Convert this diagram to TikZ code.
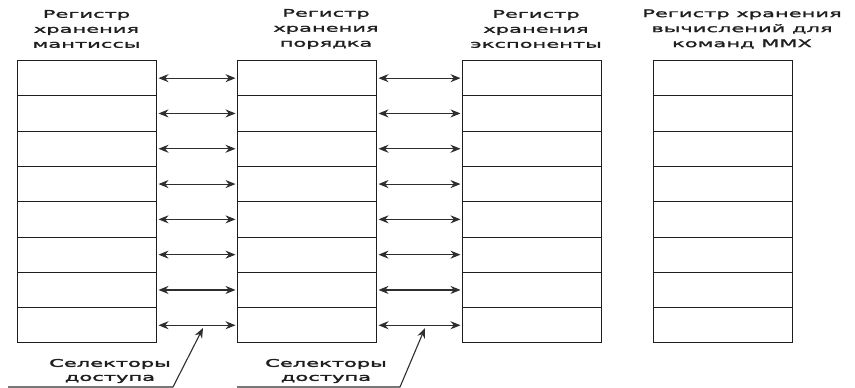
\documentclass[tikz,border=0pt]{standalone}
\usepackage{fontspec}
\usetikzlibrary{arrows.meta}
\newfontfamily\widesans[FakeStretch=2.0, FakeBold=1.8]{DejaVu Sans}
\newfontfamily\widesansheavy[FakeStretch=2.0, FakeBold=2.8]{DejaVu Sans}
\definecolor{ink}{HTML}{1E1E1E}
\definecolor{wire}{HTML}{2E2E2E}
\tikzset{
  cell/.style={draw=ink, line width=1pt, rectangle, minimum width=139pt,
    minimum height=35.3pt, inner sep=0pt, anchor=north west},
  title/.style={align=center, text=ink, inner sep=0pt,
    font=\widesans\fontsize{10.5}{15}\selectfont},
  caption/.style={align=center, text=ink, inner sep=0pt,
    font=\widesansheavy\fontsize{10.5}{14}\selectfont},
  link/.style={draw=wire, line width=1.1pt, {Stealth[length=10pt,width=8pt]}-{Stealth[length=10pt,width=8pt]},
    shorten <=1.5pt, shorten >=1.5pt},
  pointer/.style={draw=wire, line width=1.1pt, -{Stealth[length=10pt,width=8pt]}},
}
\begin{document}
\begin{tikzpicture}[x=1pt,y=-1pt]
  \useasboundingbox (0,0) rectangle (855,388);
  % four register stacks, eight cells each
  \foreach \c/\x in {1/17, 2/237, 3/462, 4/653}{
    \foreach \r in {1,...,8}{
      \node[cell] (c\c-\r) at (\x, {60+(\r-1)*35.3}) {};
    }
  }
  % headings
  \node[title] (h1) at (86.5,29) {Регистр\\хранения\\мантиссы};
  \node[title] (h2) at (326,29) {Регистр\\хранения\\порядка};
  \node[title] (h3) at (536,29) {Регистр\\хранения\\экспоненты};
  \node[title] (h4) at (742,29) {Регистр хранения\\вычислений для\\команд MMX};
  % bidirectional links between neighbouring stacks
  \foreach \r in {1,...,8}{
    \draw[link] (c1-\r.east) -- (c2-\r.west);
    \draw[link] (c2-\r.east) -- (c3-\r.west);
  }
  % selector captions
  \node[caption] (s1) at (110,371) {Селекторы\\доступа};
  \node[caption] (s2) at (326,371) {Селекторы\\доступа};
  \coordinate (u1a) at (8,387);
  \coordinate (u1b) at (173,387);
  \coordinate (t1) at (203,328);
  \coordinate (u2a) at (237,387);
  \coordinate (u2b) at (400,387);
  \coordinate (t2) at (425,328);
  \draw[pointer] (u1a) -- (u1b) -- (t1);
  \draw[pointer] (u2a) -- (u2b) -- (t2);
\end{tikzpicture}
\end{document}
